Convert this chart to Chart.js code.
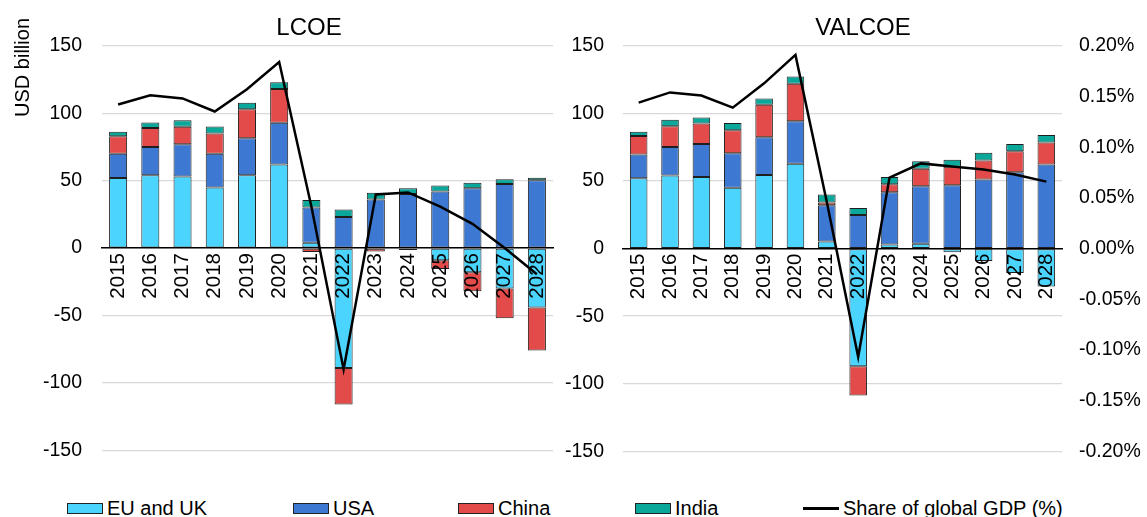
<!DOCTYPE html>
<html>
<head>
<meta charset="utf-8">
<script src="https://cdn.jsdelivr.net/npm/chart.js@4.4.1/dist/chart.umd.min.js"></script>
<style>
  body { margin: 0; background: #fff; font-family: 'Liberation Sans', Arial, sans-serif; }
  #wrap { position: relative; width: 1147px; height: 517px; overflow: hidden; }
  .panel { position: absolute; top: 0; }
  .item { position: absolute; top: 498px; height: 20px; line-height: 20px; font-size: 20px; color: #000; white-space: nowrap; padding-left: 40px; }
  .swatch { position: absolute; left: 0; top: 5px; width: 36px; height: 11px; box-sizing: border-box; border: 1px solid #222; }
  .swatch.line { top: 9px; height: 2.5px; border: none; background: #000; }
</style>
</head>
<body>
<div id="wrap">
  <div class="panel" style="left:0"><canvas id="lcoe" width="618" height="482"></canvas></div>
  <div class="panel" style="left:555px"><canvas id="valcoe" width="616" height="482"></canvas></div>
  <div id="legend"></div>
</div>
<script>
const years = ["2015", "2016", "2017", "2018", "2019", "2020", "2021", "2022", "2023", "2024", "2025", "2026", "2027", "2028"];

// LCOE, USD billion
const lcoeEU = [52, 54, 53, 45, 54, 62, 4, -89, 0, -1.5, -9, -18, -30, -44];
const lcoeUSA = [18, 21, 24, 25, 27.5, 31, 26, 23, 36, 40, 42, 44.3, 47.5, 50.2];
const lcoeChina = [13, 14, 13, 15, 21.5, 25, -3, -27, -2.5, 0, -6.5, -14, -22, -32];
const lcoeIndia = [3.2, 4.2, 4.8, 5.2, 4.7, 5, 5.6, 5.5, 5, 4.4, 4.3, 4.2, 3.5, 2];
const lcoeShare = [0.142, 0.151, 0.148, 0.135, 0.157, 0.184, 0.041, -0.12, 0.053, 0.055, 0.041, 0.024, 0.0, -0.026];

// VALCOE, USD billion
const valEU = [52, 54, 53, 45, 54.5, 62.7, 5.2, -87, 3, 3.5, -2.7, -9.2, -18, -28];
const valUSA = [17.6, 21.1, 24.4, 25.5, 27.8, 31.5, 26.8, 24.8, 38.7, 42.6, 46.9, 51, 56.5, 62.2];
const valChina = [13.7, 15.4, 15.1, 17.1, 24.1, 27.8, 2, -21.8, 5.9, 12.9, 13.6, 14.2, 15.4, 16.2];
const valIndia = [3.2, 4.7, 4.5, 5.2, 4.6, 5.2, 6, 5.2, 5.4, 5.5, 5.2, 5.7, 5.5, 5.6];
const valShare = [0.144, 0.154, 0.151, 0.139, 0.163, 0.191, 0.046, -0.107, 0.07, 0.084, 0.081, 0.078, 0.073, 0.066];

const seriesNames = ["EU and UK", "USA", "China", "India"];
const seriesColors = ["#4BD5FE", "#3D79D2", "#E24B4A", "#0AA89B"];
const lineName = "Share of global GDP (%)";

Chart.defaults.font.family = "'Liberation Sans', Arial, sans-serif";
Chart.defaults.color = "#000";

// rotated "USD billion" label placed at the top like the original
const axisLabel = {
  id: "axisLabel",
  afterDraw(chart, args, opts) {
    if (!opts.text) return;
    const ctx = chart.ctx;
    ctx.save();
    ctx.translate(opts.x, opts.y);
    ctx.rotate(-Math.PI / 2);
    ctx.font = "20px 'Liberation Sans', Arial, sans-serif";
    ctx.fillStyle = "#000";
    ctx.textAlign = "right";
    ctx.textBaseline = "middle";
    ctx.fillText(opts.text, 0, 0);
    ctx.restore();
  },
};

const make_datasets = (values, share) => {
  const bars = values.map((data, i) => ({
    type: "bar",
    label: seriesNames[i],
    data: data,
    backgroundColor: seriesColors[i],
    borderColor: "#1e1e1e",
    borderWidth: 1,
    borderSkipped: false,
    yAxisID: "y",
    order: 1,
  }));
  bars.push({
    type: "line",
    label: lineName,
    data: share,
    borderColor: "#000",
    borderWidth: 2.5,
    pointRadius: 0,
    tension: 0,
    yAxisID: "y2",
    order: 0,
  });
  return bars;
};

const draw_panel = (id, title, values, share, opts) => {
  return new Chart(document.getElementById(id), {
    type: "bar",
    data: { labels: years, datasets: make_datasets(values, share) },
    options: {
      responsive: false,
      animation: false,
      layout: { padding: 0 },
      datasets: { bar: { categoryPercentage: 1, barPercentage: 0.56 } },
      plugins: {
        legend: { display: false },
        tooltip: { enabled: false },
        title: {
          display: true,
          text: title,
          font: { size: 24, weight: "normal", lineHeight: 1.2 },
          color: "#000",
          padding: { top: 14, bottom: 3 },
        },
        axisLabel: opts.axisLabel,
      },
      scales: {
        x: {
          stacked: true,
          position: { y: 0 },
          grid: { display: false, drawTicks: false },
          border: { display: true, color: "#000", width: 1.5, z: 1 },
          ticks: {
            autoSkip: false,
            minRotation: 90,
            maxRotation: 90,
            padding: 5,
            z: 1,
            font: { size: 20.5 },
            color: "#000",
          },
          afterFit: (s) => { s.height = 0; },
        },
        y: {
          stacked: true,
          min: -150,
          max: 150,
          ticks: { stepSize: 50, padding: opts.yPad, font: { size: 19.5 }, color: "#000" },
          grid: { color: "#d9d9d9", lineWidth: 1.3, drawTicks: false },
          border: { display: false },
          afterFit: (s) => { s.width = opts.yWidth; },
        },
        y2: {
          position: "right",
          min: -0.2,
          max: 0.2,
          ticks: {
            display: opts.showRight,
            stepSize: 0.05,
            padding: 17,
            font: { size: 19.5 },
            color: "#000",
            callback: (v) => v.toFixed(2) + "%",
          },
          grid: { display: false, drawTicks: false },
          border: { display: false },
          afterFit: (s) => { s.width = opts.y2Width; },
        },
      },
    },
    plugins: [axisLabel],
  });
};

draw_panel("lcoe", "LCOE", [lcoeEU, lcoeUSA, lcoeChina, lcoeIndia], lcoeShare, {
  yWidth: 102, y2Width: 65, yPad: 20, showRight: false,
  axisLabel: { text: "USD billion", x: 23, y: 18 },
});
draw_panel("valcoe", "VALCOE", [valEU, valUSA, valChina, valIndia], valShare, {
  yWidth: 68, y2Width: 109, yPad: 19, showRight: true,
  axisLabel: { text: "" },
});

// legend below both panels
const legendPos = [67, 293, 458, 635, 803];
const legend = document.getElementById("legend");
seriesNames.concat([lineName]).forEach((name, i) => {
  const item = document.createElement("div");
  item.className = "item";
  item.style.left = legendPos[i] + "px";
  const sw = document.createElement("span");
  sw.className = i < 4 ? "swatch" : "swatch line";
  if (i < 4) sw.style.background = seriesColors[i];
  item.appendChild(sw);
  item.appendChild(document.createTextNode(name));
  legend.appendChild(item);
});
</script>
</body>
</html>
